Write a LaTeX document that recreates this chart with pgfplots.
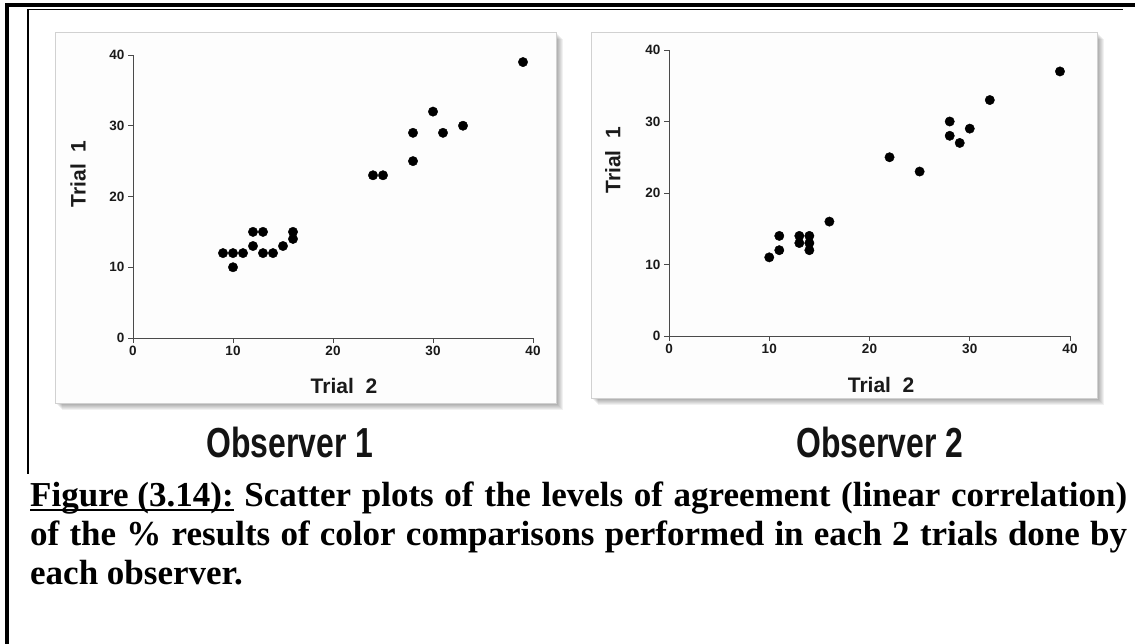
\documentclass[border=0pt]{standalone}
\usepackage{fontspec}
\setmainfont{Liberation Serif}
\newfontfamily\sansfont{Liberation Sans}
\newfontfamily\narrowfont{Liberation Sans}[FakeStretch=0.76]
\usepackage{pgfplots}
\pgfplotsset{compat=1.18}

\definecolor{axisgray}{HTML}{4A4A4A}
\definecolor{ticktext}{HTML}{1A1A1A}
\definecolor{panelbg}{HTML}{FDFDFD}

% Observer 1: Trial 2 (x) against Trial 1 (y)
\pgfplotstableread{
t2 t1
9 12
10 12
10 10
11 12
12 15
13 15
12 13
13 12
14 12
15 13
16 15
16 14
24 23
25 23
28 29
28 25
30 32
31 29
33 30
39 39
}\obsone

% Observer 2
\pgfplotstableread{
t2 t1
10 11
11 12
11 14
13 14
13 13
14 14
14 13
14 12
16 16
22 25
25 23
28 30
28 28
29 27
30 29
32 33
39 37
}\obstwo

\pgfplotsset{
  trialplot/.style={
    scale only axis,
    anchor=south west,
    xmin=0, xmax=40, ymin=0, ymax=40,
    xtick={0,10,20,30,40}, ytick={0,10,20,30,40},
    axis x line*=bottom, axis y line*=left,
    axis line style={color=axisgray, line width=0.9pt},
    tick style={color=axisgray, line width=0.9pt},
    tick align=outside,
    major tick length=5pt,
    /pgf/number format/assume math mode=true,
    tick label style={font=\sansfont\bfseries\fontsize{13.5}{15}\selectfont, text=ticktext},
    label style={font=\sansfont\bfseries\fontsize{21}{25}\selectfont, text=ticktext},
    clip=false,
  },
  dots/.style={only marks, mark=*, mark size=4.7pt,
    mark options={fill=black, draw=none}},
}

\newcommand{\panelbox}[4]{%
  \foreach \i in {1,...,7}{
    \fill[black, opacity=0.055] ({#1+\i},{#4-\i}) rectangle ({#3+\i},{#2-\i});
  }
  \fill[panelbg] (#1,#4) rectangle (#3,#2);
  \draw[black!18, line width=0.8pt] (#1,#4) rectangle (#3,#2);
}

\def\ul#1{\setbox0\hbox{#1}\rlap{\rule[-4.5pt]{\wd0}{2.2pt}}\box0\relax}

\begin{document}
\begin{tikzpicture}[x=1pt, y=1pt]
  \path[use as bounding box] (0,0) rectangle (1135,644);
  \fill[white] (0,0) rectangle (1135,644);

  % page frame
  \fill[black] (5,636.5) rectangle (1135,640.5);
  \fill[black] (5,0) rectangle (9,640.5);
  \draw[black, line width=1.5pt] (28,634.5) -- (1123,634.5);
  \draw[black, line width=1.5pt] (28,634.5) -- (28,170);

  % panels
  \panelbox{55}{612}{556}{241}
  \panelbox{591}{612}{1097}{246}

  \begin{axis}[trialplot, at={(133pt,306pt)}, width=400pt, height=283pt,
      xlabel={Trial\ \ 2}, ylabel={Trial\ \ 1},
      xlabel style={at={(axis description cs:0.5275,-0.1696)}, anchor=center},
      ylabel style={at={(axis description cs:-0.1375,0.58)}, anchor=center}]
    \addplot[dots] table[x=t2, y=t1] {\obsone};
  \end{axis}

  \begin{axis}[trialplot, at={(669pt,308pt)}, width=401pt, height=286pt,
      xlabel={Trial\ \ 2}, ylabel={Trial\ \ 1},
      xlabel style={at={(axis description cs:0.529,-0.1713)}, anchor=center},
      ylabel style={at={(axis description cs:-0.1397,0.615)}, anchor=center}]
    \addplot[dots] table[x=t2, y=t1] {\obstwo};
  \end{axis}

  % panel titles
  \node[anchor=base, inner sep=0, font=\narrowfont\bfseries\fontsize{42}{48}\selectfont, text=black!92]
    at (290,186) {Observer 1};
  \node[anchor=base, inner sep=0, font=\narrowfont\bfseries\fontsize{42}{48}\selectfont, text=black!92]
    at (880,186) {Observer 2};

  % caption
  \begin{scope}[every node/.style={anchor=base west, inner sep=0,
      font=\bfseries\fontsize{35}{39}\selectfont}]
    \node at (30,137) {\hbox to 1097pt{\ul{Figure (3.14):} Scatter plots of the levels of agreement (linear correlation)}};
    \node at (30,98) {\hbox to 1097pt{of the \% results of color comparisons performed in each 2 trials done by}};
    \node at (30,59) {each observer.};
  \end{scope}
\end{tikzpicture}
\end{document}
